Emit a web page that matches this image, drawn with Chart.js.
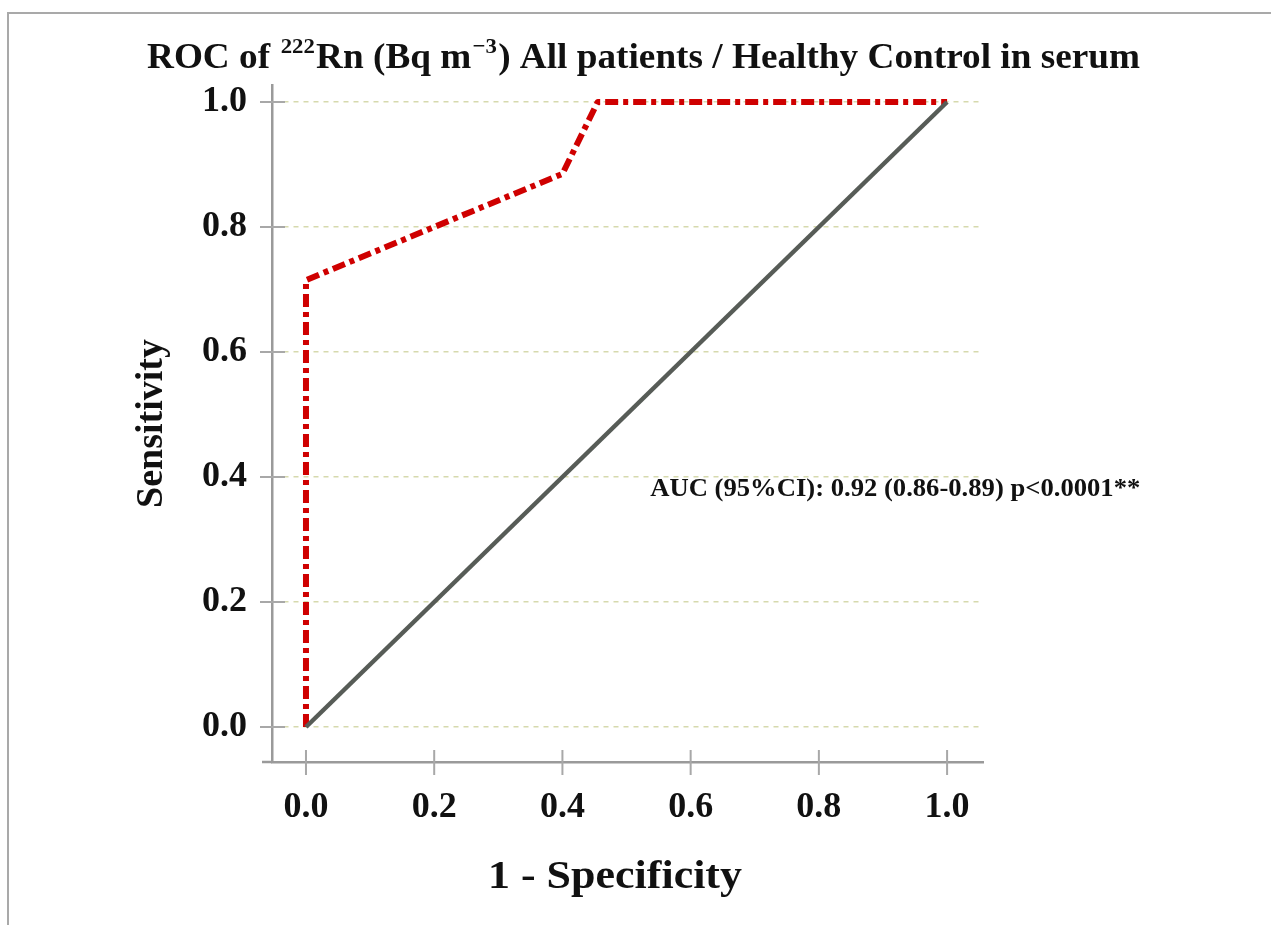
<!DOCTYPE html>
<html>
<head>
<meta charset="utf-8">
<script src="https://cdn.jsdelivr.net/npm/chart.js@4/dist/chart.umd.min.js"></script>
<style>
  html, body { margin: 0; padding: 0; background: #fff; }
  #wrap { position: relative; width: 1271px; height: 925px; overflow: hidden; }
  #frame { position: absolute; left: 7px; top: 12px; right: -4px; bottom: -4px;
           border-left: 2px solid #a9a9a9; border-top: 2px solid #a9a9a9; }
  canvas { position: absolute; left: 0; top: 0; }
</style>
</head>
<body>
<div id="wrap"><div id="frame"></div><canvas id="roc" width="1271" height="925"></canvas></div>
<script>
// ROC curve
const rocX = [0, 0, 0.4, 0.455, 1];
const rocY = [0, 0.715, 0.885, 1, 1];
// reference diagonal
const refX = [0, 1];
const refY = [0, 1];
const xTicks = [0, 0.2, 0.4, 0.6, 0.8, 1.0];
const yTicks = [0, 0.2, 0.4, 0.6, 0.8, 1.0];
const xTitle = "1 - Specificity";
const aucText = "AUC (95%CI): 0.92 (0.86-0.89) p<0.0001**";
const aucAt = [0.537, 0.38];

const serif = "'Liberation Serif', 'Times New Roman', serif";
const axisGray = "#9a9a9a";

const toPoints = (xs, ys) => xs.map((x, i) => ({ x: x, y: ys[i] }));

// tick marks crossing the axis lines, like the original
const axisTicks = {
  id: "axisTicks",
  beforeDatasetsDraw(chart) {
    const { ctx, chartArea, scales: { x, y } } = chart;
    ctx.save();
    ctx.strokeStyle = "#a8a8a8";
    ctx.lineWidth = 2;
    ctx.beginPath();
    xTicks.forEach(v => {
      const px = x.getPixelForValue(v);
      ctx.moveTo(px, chartArea.bottom - 12);
      ctx.lineTo(px, chartArea.bottom + 13);
    });
    yTicks.forEach(v => {
      const py = y.getPixelForValue(v);
      ctx.moveTo(chartArea.left - 12, py);
      ctx.lineTo(chartArea.left + 13, py);
    });
    ctx.stroke();
    ctx.strokeStyle = axisGray;
    ctx.lineWidth = 2.5;
    ctx.beginPath();
    ctx.moveTo(chartArea.left - 10, chartArea.bottom);
    ctx.lineTo(chartArea.left, chartArea.bottom);
    ctx.stroke();
    ctx.restore();
  }
};

// title with superscripts, x title and AUC note
const texts = {
  id: "texts",
  afterDraw(chart) {
    const { ctx, scales: { x, y } } = chart;
    ctx.save();
    ctx.fillStyle = "#111";
    ctx.textBaseline = "alphabetic";
    const parts = [
      ["ROC of ", 0], ["222", 1], ["Rn (Bq m", 0], ["\u22123", 1],
      [") All patients / Healthy Control in serum", 0]
    ];
    const big = "bold 31px " + serif, small = "bold 19px " + serif;
    let total = 0;
    parts.forEach(p => { ctx.font = p[1] ? small : big; total += ctx.measureText(p[0]).width + (p[1] ? 2 : 0); });
    ctx.translate(147, 68);
    ctx.scale(993 / total, 1.15);
    let cx = 0;
    parts.forEach(p => {
      ctx.font = p[1] ? small : big;
      ctx.fillText(p[0], cx + (p[1] ? 1 : 0), p[1] ? -13 : 0);
      cx += ctx.measureText(p[0]).width + (p[1] ? 2 : 0);
    });
    ctx.restore();

    ctx.save();
    ctx.fillStyle = "#111";
    ctx.font = "bold 38px " + serif;
    ctx.textAlign = "center";
    ctx.textBaseline = "middle";
    const tw = ctx.measureText(xTitle).width;
    ctx.translate(615, 877);
    ctx.scale(254 / tw, 1.08);
    ctx.fillText(xTitle, 0, 0);
    ctx.restore();

    ctx.save();
    ctx.fillStyle = "#111";
    ctx.font = "bold 23px " + serif;
    ctx.textBaseline = "middle";
    const w = ctx.measureText(aucText).width;
    ctx.translate(x.getPixelForValue(aucAt[0]), y.getPixelForValue(aucAt[1]));
    ctx.scale(490 / w, 1.05);
    ctx.fillText(aucText, 0, 0);
    ctx.restore();
  }
};

new Chart(document.getElementById("roc"), {
  type: "scatter",
  data: {
    datasets: [
      {
        label: "Reference",
        data: toPoints(refX, refY),
        showLine: true,
        borderColor: "#575c57",
        borderWidth: 4.5,
        pointRadius: 0
      },
      {
        label: "222Rn",
        data: toPoints(rocX, rocY),
        showLine: true,
        borderColor: "#cf0000",
        borderWidth: 6,
        borderDash: [13, 5, 5, 5],
        borderJoinStyle: "round",
        pointRadius: 0
      }
    ]
  },
  options: {
    responsive: false,
    animation: false,
    layout: { padding: { left: 110, right: 288, top: 85, bottom: 20 } },
    plugins: { legend: { display: false }, tooltip: { enabled: false } },
    scales: {
      x: {
        type: "linear",
        min: -0.053,
        max: 1.056,
        afterBuildTicks: s => { s.ticks = xTicks.map(v => ({ value: v })); },
        afterFit: s => { s.height = 143; },
        grid: { display: false, drawTicks: false },
        border: { display: true, color: axisGray, width: 2.5 },
        ticks: {
          padding: 24,
          color: "#111",
          font: { family: serif, size: 36, weight: "bold" },
          callback: v => v.toFixed(1)
        },
        title: { display: false }
      },
      y: {
        type: "linear",
        min: -0.056,
        max: 1.0272,
        afterBuildTicks: s => { s.ticks = yTicks.map(v => ({ value: v })); },
        afterFit: s => { s.width = 162; },
        grid: {
          drawTicks: false,
          color: "#d6d9ad",
          lineWidth: 1.5
        },
        border: { display: true, color: axisGray, width: 2.5, dash: [5, 5] },
        ticks: {
          padding: 25,
          color: "#111",
          font: { family: serif, size: 36, weight: "bold" },
          callback: v => v.toFixed(1)
        },
        title: {
          display: true,
          text: "Sensitivity",
          color: "#111",
          font: { family: serif, size: 38, weight: "bold" },
          padding: { top: 19, bottom: 0 }
        }
      }
    }
  },
  plugins: [axisTicks, texts]
});
</script>
</body>
</html>
